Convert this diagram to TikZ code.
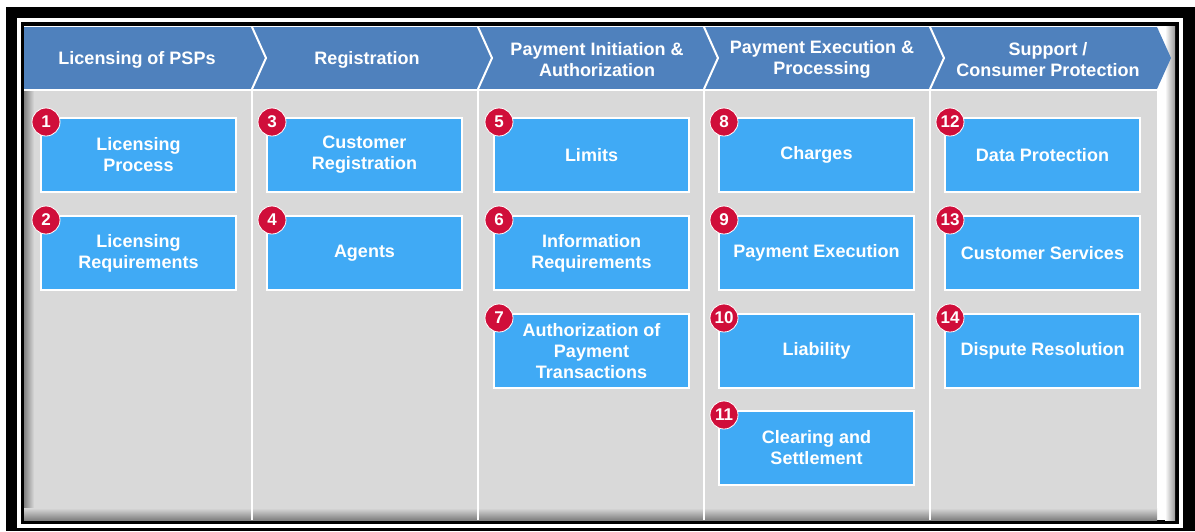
\documentclass[tikz,border=0pt]{standalone}
\usepackage{fontspec}
\setmainfont{Liberation Sans}

\definecolor{headblue}{RGB}{79,129,189}
\definecolor{boxblue}{RGB}{64,170,245}
\definecolor{lanegray}{RGB}{217,217,217}
\definecolor{badgered}{RGB}{208,14,58}

\begin{document}
\begin{tikzpicture}[x=1pt,y=-1pt]
\tikzstyle{Phase} = [text=white, font=\fontsize{18}{21}\selectfont\bfseries, align=center, inner sep=0]
\tikzstyle{Topic} = [draw=white, line width=2pt, fill=boxblue, text=white, font=\fontsize{18}{21}\selectfont\bfseries, align=center, minimum width=195pt, minimum height=74pt, inner sep=2pt, outer sep=0]
\tikzstyle{Badge} = [circle, draw=white, line width=0.8pt, fill=badgered, text=white, font=\fontsize{17}{17}\selectfont\bfseries, minimum size=28pt, inner sep=0]
\tikzstyle{Lane} = [draw=white, line width=1.5pt]

\useasboundingbox (0,0) rectangle (1195,531);
\fill[white] (0,0) rectangle (1195,531);
\fill[black] (6,7) rectangle (1195,531);
\fill[white] (17,18) rectangle (1183,528);
\fill[black] (21,22) rectangle (1179,524);
\fill[white] (24,26) rectangle (1175,520);
\fill[lanegray] (24,91) rectangle (1157,520);
\shade[left color=black!50, right color=lanegray] (24,91) rectangle (34,520);
\shade[top color=lanegray, bottom color=black!50] (24,508) rectangle (1157,520);
\shade[left color=white, right color=black!40] (1165,26) rectangle (1175,520);

\fill[headblue] (24,27) -- (1157,27) -- (1171,58) -- (1157,89) -- (24,89) -- cycle;
\draw[Lane, line width=2pt] (252,27) -- (266,58) -- (252,89);
\draw[Lane, line width=2pt] (478,27) -- (492,58) -- (478,89);
\draw[Lane, line width=2pt] (704,27) -- (718,58) -- (704,89);
\draw[Lane, line width=2pt] (930,27) -- (944,58) -- (930,89);
\draw[Lane] (24,90) -- (1157,90);
\draw[Lane] (252,91) -- (252,520);
\draw[Lane] (478,91) -- (478,520);
\draw[Lane] (704,91) -- (704,520);
\draw[Lane] (930,91) -- (930,520);

\node [Phase] (h1) at (137,59.5) {Licensing of PSPs};
\node [Phase] (h2) at (367,59.5) {Registration};
\node [Phase] (h3) at (597,59.5) {Payment Initiation \&\\Authorization};
\node [Phase] (h4) at (822,59.5) {Payment Execution \&\\Processing};
\node [Phase] (h5) at (1048,59.5) {Support /\\Consumer Protection};

\node [Topic] (v1) at (138.5,155) {Licensing\\Process};
\node [Topic] (v2) at (138.5,253) {Licensing\\Requirements};
\node [Topic] (v3) at (364.5,155) {Customer\\Registration};
\node [Topic] (v4) at (364.5,253) {Agents};
\node [Topic] (v5) at (591.5,155) {Limits};
\node [Topic] (v6) at (591.5,253) {Information\\Requirements};
\node [Topic] (v7) at (591.5,351) {Authorization of\\Payment\\Transactions};
\node [Topic] (v8) at (816.5,155) {Charges};
\node [Topic] (v9) at (816.5,253) {Payment Execution};
\node [Topic] (v10) at (816.5,351) {Liability};
\node [Topic] (v11) at (816.5,448) {Clearing and\\Settlement};
\node [Topic] (v12) at (1042.5,155) {Data Protection};
\node [Topic] (v13) at (1042.5,253) {Customer Services};
\node [Topic] (v14) at (1042.5,351) {Dispute Resolution};

\node [Badge, xshift=5pt, yshift=-4pt] (n1) at (v1.north west) {1};
\node [Badge, xshift=5pt, yshift=-4pt] (n2) at (v2.north west) {2};
\node [Badge, xshift=5pt, yshift=-4pt] (n3) at (v3.north west) {3};
\node [Badge, xshift=5pt, yshift=-4pt] (n4) at (v4.north west) {4};
\node [Badge, xshift=5pt, yshift=-4pt] (n5) at (v5.north west) {5};
\node [Badge, xshift=5pt, yshift=-4pt] (n6) at (v6.north west) {6};
\node [Badge, xshift=5pt, yshift=-4pt] (n7) at (v7.north west) {7};
\node [Badge, xshift=5pt, yshift=-4pt] (n8) at (v8.north west) {8};
\node [Badge, xshift=5pt, yshift=-4pt] (n9) at (v9.north west) {9};
\node [Badge, xshift=5pt, yshift=-4pt] (n10) at (v10.north west) {10};
\node [Badge, xshift=5pt, yshift=-4pt] (n11) at (v11.north west) {11};
\node [Badge, xshift=5pt, yshift=-4pt] (n12) at (v12.north west) {12};
\node [Badge, xshift=5pt, yshift=-4pt] (n13) at (v13.north west) {13};
\node [Badge, xshift=5pt, yshift=-4pt] (n14) at (v14.north west) {14};
\end{tikzpicture}
\end{document}
